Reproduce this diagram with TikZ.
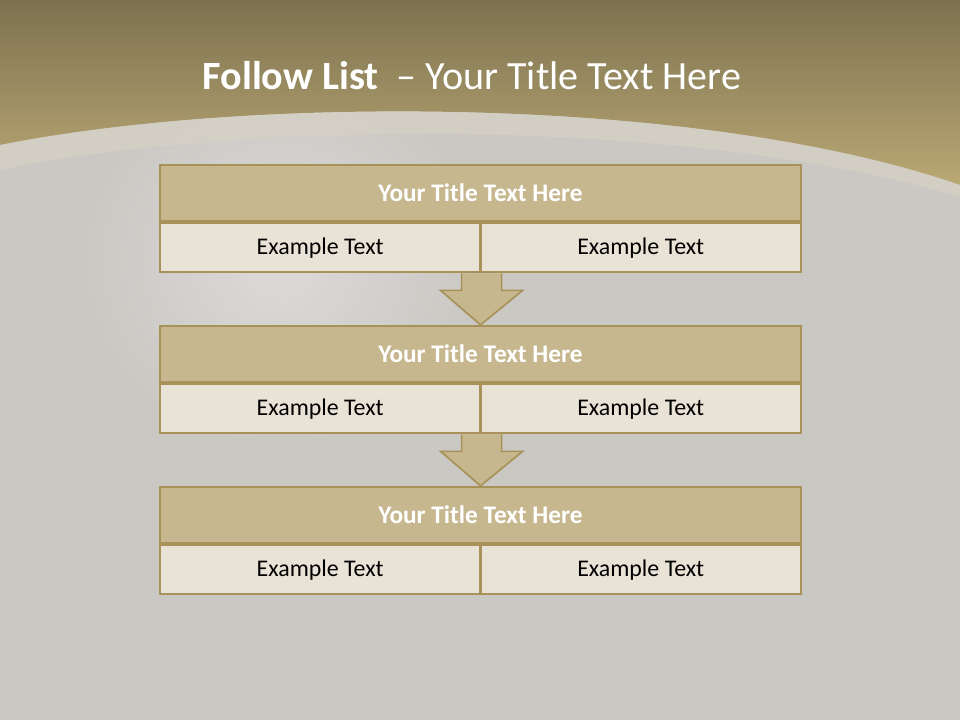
\documentclass[tikz,border=0pt]{standalone}
\usepackage{fontspec}
\setmainfont{Carlito}
\usetikzlibrary{positioning,calc}

\definecolor{slidegray}{HTML}{CAC8C3}
\definecolor{goldtop}{HTML}{7D7250}
\definecolor{goldlow}{HTML}{BAA874}
\definecolor{bandtan}{HTML}{D9D3C5}
\definecolor{rowtan}{HTML}{C6B78F}
\definecolor{celltan}{HTML}{E9E2D6}
\definecolor{edgetan}{HTML}{A8925A}

\begin{document}
\begin{tikzpicture}[
    x=0.025cm, y=-0.025cm,
    every node/.style={font=\fontsize{17}{20}\selectfont},
    titlerow/.style={rectangle, draw=edgetan, fill=rowtan, line width=1.6pt,
        minimum width=16.025cm, minimum height=1.4cm, inner sep=0pt,
        text=white, font=\fontsize{18}{21}\selectfont\bfseries},
    textcell/.style={rectangle, draw=edgetan, fill=celltan, line width=1.6pt,
        minimum width=8.0125cm, minimum height=1.225cm, inner sep=0pt,
        text=black},
    flowarrow/.style={draw=edgetan, fill=rowtan, line width=1.2pt, line join=miter},
]
% slide background
\fill[slidegray] (0,0) rectangle (960,720);
\useasboundingbox (0,0) rectangle (960,720);
\shade[inner color=white, outer color=slidegray, opacity=0.35]
    (280,260) ellipse [x radius=200, y radius=190];
\shade[top color=goldtop, bottom color=goldlow]
    (0,0) -- (960,0) -- (960,185) .. controls (700,95) and (250,95) .. (0,145) -- cycle;
\fill[bandtan, opacity=0.55]
    (0,145) .. controls (250,95) and (700,95) .. (960,185)
    -- (960,197) .. controls (700,118) and (250,118) .. (0,170) -- cycle;

% heading
\node[text=white, font=\fontsize{28.5}{32}\selectfont] (heading) at (472,76)
    {\textbf{Follow List}\ \ -- Your Title Text Here};

% three steps
\foreach \i/\top in {1/165, 2/326, 3/487} {
    \node[titlerow] (t\i) at (480.5,\top+28) {Your Title Text Here};
    \node[textcell, anchor=north west] (l\i) at (t\i.south west) {Example Text};
    \node[textcell, anchor=north east] (r\i) at (t\i.south east) {Example Text};
}

% arrows between steps
\foreach \i/\j in {1/2, 2/3} {
    \draw[flowarrow] ($(l\i.south east)+(-20,0)$) -- ++(0,17) -- ++(-21,0)
        -- (t\j.north) -- ($(l\i.south east)+(41,17)$) -- ++(-21,0) -- ++(0,-17);
}
\end{tikzpicture}
\end{document}
